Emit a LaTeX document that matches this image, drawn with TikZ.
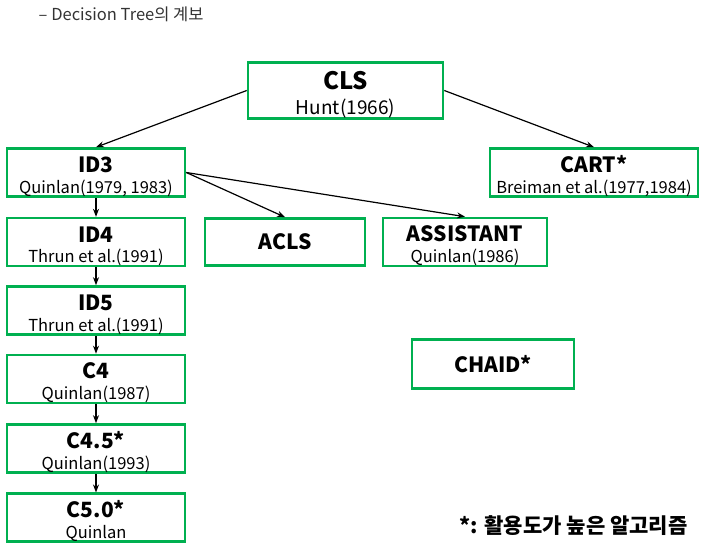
\documentclass[tikz,border=0pt]{standalone}
\usepackage{fontspec}
\setmainfont{Noto Sans CJK KR}
\usepackage{tikz}
\usetikzlibrary{arrows.meta}

\definecolor{boxgreen}{RGB}{0,176,80}
\newcommand{\algname}[1]{{\rule{0pt}{24pt}\fontsize{21}{21}\selectfont\bfseries #1}}
\newcommand{\algsolo}[1]{{\fontsize{21}{21}\selectfont\bfseries #1}}
\newcommand{\algref}[1]{{\fontsize{16.5}{16.5}\selectfont #1}}

\begin{document}
\begin{tikzpicture}[x=1pt,y=-1pt,thick,>={Stealth[length=8pt,width=6pt]}]
		\tikzstyle{algo}=[draw=boxgreen,line width=2.6pt,shape=rectangle,align=center,inner sep=0pt,minimum width=178pt,minimum height=47pt]
		\tikzstyle{link}=[->,line width=1.2pt]
		\useasboundingbox (0,0) rectangle (711,554);

		\node[anchor=west,text=black!80,font=\fontsize{16.5}{16.5}\selectfont](title) at (35,14){-- Decision Tree의 계보};

		\node[algo,minimum width=195pt,minimum height=55pt](cls) at (345.5,90.5){{\rule{0pt}{27pt}\fontsize{24}{24}\selectfont\bfseries CLS}\\[8pt]{\fontsize{19}{19}\selectfont Hunt(1966)}};
		\node[algo](id3) at (96,172.5){\algname{ID3}\\[6pt]\algref{Quinlan(1979, 1983)}};
		\node[algo,minimum width=208pt](cart) at (594,172.5){\algname{CART*}\\[6pt]\algref{Breiman et al.(1977,1984)}};
		\node[algo](id4) at (96,242){\algname{ID4}\\[6pt]\algref{Thrun et al.(1991)}};
		\node[algo,minimum width=160pt](acls) at (285,242){\algsolo{ACLS}};
		\node[algo,minimum width=164pt](assistant) at (465,242){\algname{ASSISTANT}\\[6pt]\algref{Quinlan(1986)}};
		\node[algo](id5) at (96,310.5){\algname{ID5}\\[6pt]\algref{Thrun et al.(1991)}};
		\node[algo,minimum width=162pt,minimum height=49pt](chaid) at (493,364){\algsolo{CHAID*}};
		\node[algo](c4) at (96,379){\algname{C4}\\[6pt]\algref{Quinlan(1987)}};
		\node[algo](c45) at (96,448.5){\algname{C4.5*}\\[6pt]\algref{Quinlan(1993)}};
		\node[algo](c50) at (96,517.5){\algname{C5.0*}\\[6pt]\algref{Quinlan}};

		\node[anchor=west,font=\fontsize{21}{21}\selectfont\bfseries](note) at (456,526){*: 활용도가 높은 알고리즘};

		% from CLS
		\draw[link] (cls.west) -- (id3.north);
		\draw[link] (cls.east) -- (cart.north);

		% from ID3
		\draw[link] (id3.east) -- (acls.north);
		\draw[link] (id3.east) -- (assistant.north);

		% ID family
		\draw[link] (id3) -- (id4);
		\draw[link] (id4) -- (id5);
		\draw[link] (id5) -- (c4);
		\draw[link] (c4) -- (c45);
		\draw[link] (c45) -- (c50);
\end{tikzpicture}
\end{document}
